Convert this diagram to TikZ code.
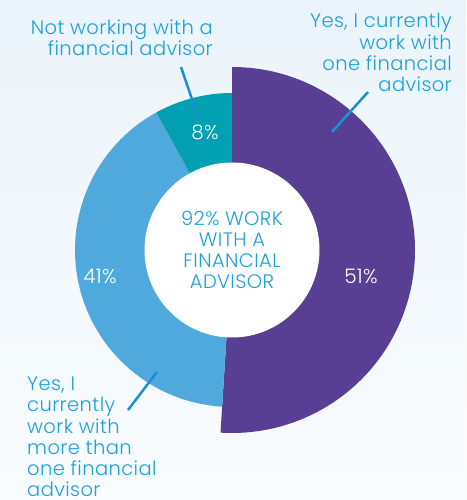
\documentclass[tikz,border=0pt]{standalone}
\usepackage{fontspec}
\setmainfont{Poppins Light}[LetterSpace=2]
\definecolor{purp}{HTML}{583F94}
\definecolor{lblue}{HTML}{4FA9DD}
\definecolor{tealc}{HTML}{009FB1}
\definecolor{txtblue}{HTML}{1DA1DC}
\definecolor{leadc}{HTML}{1A8FD2}
\definecolor{bgtop}{HTML}{EBF4FB}
\definecolor{bgbot}{HTML}{F9FCFE}
\tikzset{
  lbl/.style={inner sep=0pt, text=txtblue, font=\fontsize{19.5}{21.2}\selectfont},
  pct/.style={inner sep=0pt, text=white, font=\fontsize{20}{21}\selectfont},
  leader/.style={draw=leadc, line width=2.5pt}
}
\begin{document}
\begin{tikzpicture}[x=1pt,y=1pt]
\shade[top color=bgtop, bottom color=bgbot] (0,0) rectangle (466,500);
\useasboundingbox (0,0) rectangle (466,500);
\coordinate (c) at (232,250);
\fill[purp] (c) -- ++(90:183) arc[start angle=90,end angle=-93.6,radius=183] -- cycle;
\fill[lblue] (c) -- ++(-93.6:157) arc[start angle=-93.6,end angle=-241.2,radius=157] -- cycle;
\fill[tealc] (c) -- ++(118.8:157) arc[start angle=118.8,end angle=90,radius=157] -- cycle;
\fill[white] (c) circle[radius=87.5];
\node[lbl, align=center] (ctr) at (232,250) {92\% WORK\\WITH A\\FINANCIAL\\ADVISOR};
\node[pct] (p8) at (205,368) {8\%};
\node[pct] (p51) at (361,224) {51\%};
\node[pct] (p41) at (100,224) {41\%};
\node[lbl, align=right, anchor=east] (tl) at (213,462.5) {Not working with a\\financial advisor};
\node[lbl, align=right, anchor=east] (tr) at (452,447.5) {Yes, I currently\\work with\\one financial\\advisor};
\node[lbl, align=left, anchor=west] (bl) at (27,63) {Yes, I\\currently\\work with\\more than\\one financial\\advisor};
\coordinate (l1a) at (181,433); \coordinate (l1b) at (198,383);
\coordinate (l2a) at (368,408); \coordinate (l2b) at (332,368);
\coordinate (l3a) at (157,128); \coordinate (l3b) at (128,90);
\draw[leader] (l1a) -- (l1b);
\draw[leader] (l2a) -- (l2b);
\draw[leader] (l3a) -- (l3b);
\end{tikzpicture}
\end{document}
